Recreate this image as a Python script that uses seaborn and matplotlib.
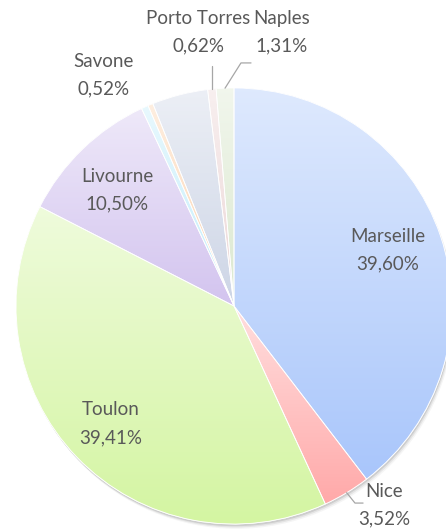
import numpy as np
import seaborn as sns
import matplotlib.pyplot as plt
from matplotlib.colors import to_rgb
from matplotlib.patches import Circle, Wedge

# donnees
villes = ["Marseille", "Nice", "Toulon", "Livourne", "Savone", "Gênes", "Autres", "Porto Torres", "Naples"]
parts = [39.60, 3.52, 39.41, 10.50, 0.52, 0.38, 4.14, 0.62, 1.31]
etiquettes = ["39,60%", "3,52%", "39,41%", "10,50%", "0,52%", "", "", "0,62%", "1,31%"]

couleurs = ["#a9c6fb", "#ffa9a9", "#d4f5a2", "#d3c4ef", "#c2edfb",
            "#fcd3ae", "#cdd5e6", "#ecd6d6", "#dbe8cf"]

# position des etiquettes (unites du camembert, rayon 1)
pos_texte = {
    "Marseille": (0.706, 0.257),
    "Nice": (0.69, -0.915),
    "Toulon": (-0.565, -0.54),
    "Livourne": (-0.535, 0.53),
    "Savone": (-0.60, 1.06),
    "Porto Torres": (-0.165, 1.255),
    "Naples": (0.22, 1.255),
}
# traits de rappel : points apres le bord de la part
rappels = {
    "Nice": [(0.555, -0.904), (0.592, -0.904)],
    "Porto Torres": [(None, 1.10)],
    "Naples": [(0.032, 1.115), (0.078, 1.115)],
}

sns.set_style("white")
plt.rcParams["font.family"] = ["Lato", "DejaVu Sans"]
gris = "#595959"
xlim = (-234 / 218, 212 / 218)
ylim = (-225 / 218, 306 / 218)

fig = plt.figure(figsize=(4.46, 5.31), dpi=100)
ax = fig.add_axes([0, 0, 1, 1])

# ombre
for k, a in enumerate([0.14, 0.09, 0.05]):
    ax.add_patch(Circle((0.004 + 0.004 * k, -0.010 - 0.006 * k), 1.0, color="#404040",
                        alpha=a, lw=0, zorder=0))

wedges, _ = ax.pie(parts, colors=couleurs, startangle=90, counterclock=False,
                   radius=1.0, center=(0, 0), frame=True,
                   wedgeprops=dict(edgecolor="white", linewidth=0.6, zorder=1))

# degrade vertical dans chaque part
for w, c in zip(wedges, couleurs):
    bb = w.get_path().get_extents()
    r, g, b = to_rgb(c)
    t = np.linspace(0.62, 0.0, 128)[:, None]
    img = np.zeros((128, 1, 3))
    img[..., 0] = r + (1 - r) * t
    img[..., 1] = g + (1 - g) * t
    img[..., 2] = b + (1 - b) * t
    im = ax.imshow(img, extent=(bb.x0, bb.x1, bb.y0, bb.y1), origin="upper",
                   aspect="auto", zorder=1.5, interpolation="bilinear")
    im.set_clip_path(w)
    ax.add_patch(Wedge(w.center, w.r, w.theta1, w.theta2, fill=False,
                       edgecolor="white", linewidth=0.6, zorder=2))

ax.set_xlim(*xlim)
ax.set_ylim(*ylim)
ax.set_aspect("equal")
ax.axis("off")

for w, nom, lab in zip(wedges, villes, etiquettes):
    if nom not in pos_texte:
        continue
    x, y = pos_texte[nom]
    ax.text(x, y, f"{nom}\n{lab}", ha="center", va="center", fontsize=13.5,
            color=gris, linespacing=1.75, zorder=5)
    if nom in rappels:
        ang = np.deg2rad((w.theta1 + w.theta2) / 2)
        xs, ys = [np.cos(ang)], [np.sin(ang)]
        for px, py in rappels[nom]:
            xs.append(xs[0] if px is None else px)
            ys.append(py)
        ax.plot(xs, ys, color="#a6a6a6", lw=0.9, zorder=4)

plt.savefig("out.png", dpi=100)
